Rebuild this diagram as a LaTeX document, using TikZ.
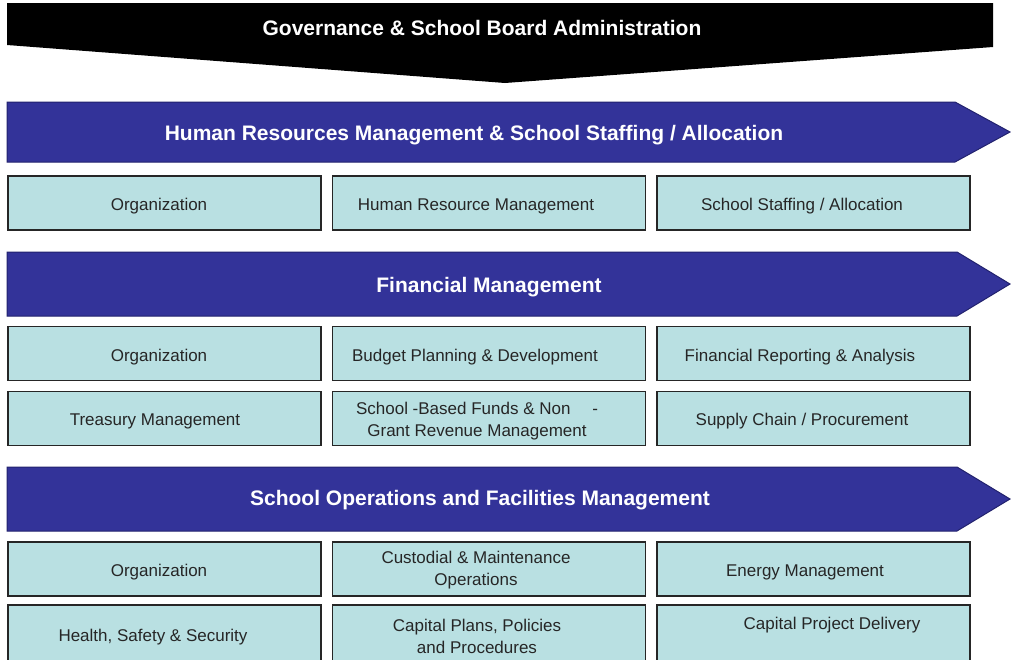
\documentclass[tikz,border=0pt]{standalone}
\usepackage{fontspec}
\setmainfont{Liberation Sans}
\definecolor{color1}{RGB}{0,0,0}
\definecolor{color2}{RGB}{51,51,153}
\definecolor{color3}{RGB}{185,224,226}
\definecolor{color4}{RGB}{38,38,38}
\definecolor{color5}{RGB}{255,255,255}
\definecolor{color6}{RGB}{34,34,110}
\tikzset{
	box/.style={fill=color3, draw=color4, line width=1.5pt, minimum width=313pt, minimum height=54pt, inner sep=0pt},
	boxtext/.style={font=\fontsize{17}{22}\selectfont, align=center, text=color4, inner sep=0pt},
	band/.style={fill=color2, draw=color6, line width=1pt},
	bandtext/.style={font=\fontsize{21}{25}\selectfont\bfseries, text=color5, inner sep=0pt},
}

\begin{document}
\begin{tikzpicture}[x=1pt, y=-1pt]
	\clip (0,0) rectangle (1011,659);
	\fill[color5] (0,0) rectangle (1011,659);
	% governance chevron
	\fill[color1] (7,3) -- (993,3) -- (993,47) -- (505,83) -- (7,45) -- cycle;
	\node[bandtext] (t0) at (482,28) {Governance \& School Board Administration};
	% human resources
	\draw[band] (7,102) -- (955,102) -- (1010,132) -- (955,162) -- (7,162) -- cycle;
	\node[bandtext] (t1) at (474,135) {Human Resources Management \& School Staffing / Allocation};
	\node[box] (n1) at (164.5,203) {};
	\node[boxtext] (t2) at (159,206) {Organization};
	\node[box] (n2) at (489,203) {};
	\node[boxtext] (t3) at (476,206) {Human Resource Management};
	\node[box] (n3) at (813.5,203) {};
	\node[boxtext] (t4) at (802,206) {School Staffing / Allocation};
	% financial management
	\draw[band] (7,252) -- (957,252) -- (1010,284) -- (957,316) -- (7,316) -- cycle;
	\node[bandtext] (t5) at (489,287) {Financial Management};
	\node[box] (n4) at (164.5,353.5) {};
	\node[boxtext] (t6) at (159,357) {Organization};
	\node[box] (n5) at (489,353.5) {};
	\node[boxtext] (t7) at (475,357) {Budget Planning \& Development};
	\node[box] (n6) at (813.5,353.5) {};
	\node[boxtext] (t8) at (800,357) {Financial Reporting \& Analysis};
	\node[box] (n7) at (164.5,418.5) {};
	\node[boxtext] (t9) at (155,421) {Treasury Management};
	\node[box] (n8) at (489,418.5) {};
	\node[boxtext] (t10) at (477,421) {School -Based Funds \& Non \quad -\\Grant Revenue Management};
	\node[box] (n9) at (813.5,418.5) {};
	\node[boxtext] (t11) at (802,421) {Supply Chain / Procurement};
	% operations and facilities
	\draw[band] (7,467) -- (957,467) -- (1010,499) -- (957,531) -- (7,531) -- cycle;
	\node[bandtext] (t12) at (480,500) {School Operations and Facilities Management};
	\node[box] (n10) at (164.5,569) {};
	\node[boxtext] (t13) at (159,572) {Organization};
	\node[box] (n11) at (489,569) {};
	\node[boxtext] (t14) at (476,570) {Custodial \& Maintenance\\Operations};
	\node[box] (n12) at (813.5,569) {};
	\node[boxtext] (t15) at (805,572) {Energy Management};
	\node[box, minimum height=64pt] (n13) at (164.5,637) {};
	\node[boxtext] (t16) at (153,637) {Health, Safety \& Security};
	\node[box, minimum height=64pt] (n14) at (489,637) {};
	\node[boxtext] (t17) at (477,636) {Capital Plans, Policies\\and Procedures};
	\node[box, minimum height=64pt] (n15) at (813.5,637) {};
	\node[boxtext] (t18) at (832,625) {Capital Project Delivery};
\end{tikzpicture}
\end{document}
